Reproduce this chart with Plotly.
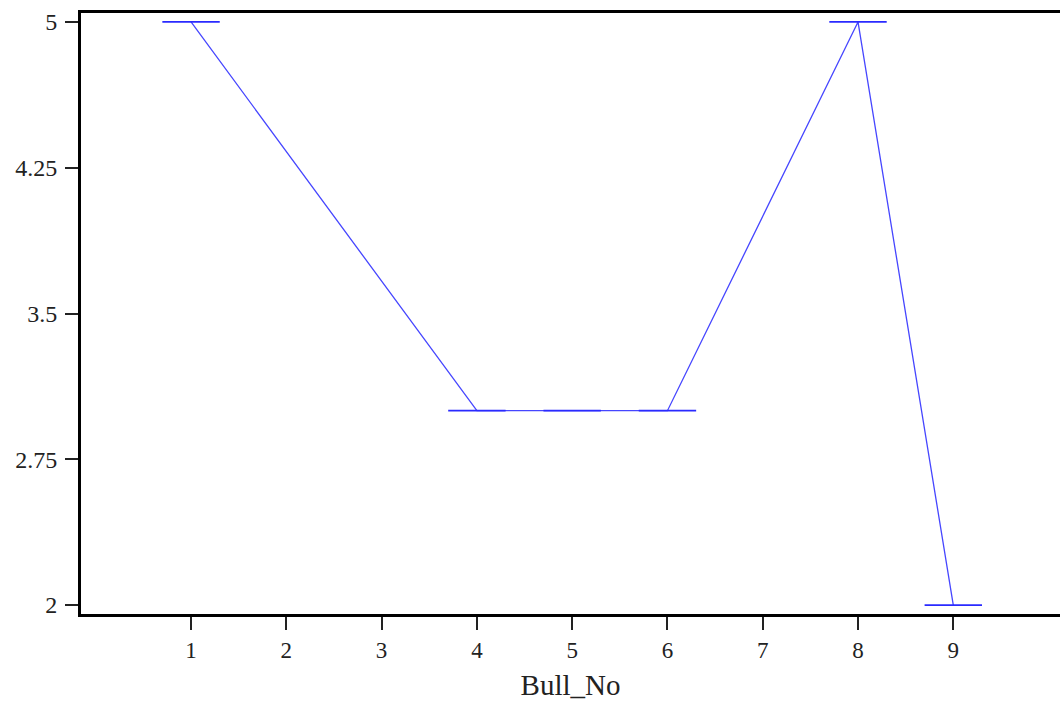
import plotly.graph_objects as go

# Bull numbers with recorded scores
bull_no = [1, 4, 5, 6, 8, 9]
score = [5, 3, 3, 3, 5, 2]

x_ticks = [1, 2, 3, 4, 5, 6, 7, 8, 9]
y_ticks = [2, 2.75, 3.5, 4.25, 5]
y_tick_text = ["2", "2.75", "3.5", "4.25", "5"]

fig = go.Figure()
fig.add_trace(go.Scatter(
    x=bull_no,
    y=score,
    mode="lines+markers",
    line=dict(color="#4646ff", width=1.3),
    marker=dict(symbol="line-ew", size=41,
                line=dict(color="#2a2aff", width=1.8)),
    showlegend=False,
    hoverinfo="x+y",
))

font_family = "Liberation Serif, Times New Roman, serif"

fig.update_layout(
    width=1060,
    height=709,
    margin=dict(l=81, r=0, t=13, b=95),
    paper_bgcolor="white",
    plot_bgcolor="white",
    font=dict(family=font_family, size=24, color="#222"),
    xaxis=dict(
        range=[-0.155, 10.12],
        tickvals=x_ticks,
        ticktext=[str(v) for v in x_ticks],
        showgrid=False,
        zeroline=False,
        showline=True,
        linecolor="black",
        linewidth=3,
        mirror=True,
        ticks="outside",
        ticklen=13,
        tickwidth=2,
        tickcolor="#222",
        tickfont=dict(size=23),
        title=dict(text="Bull_No", font=dict(size=29), standoff=14),
    ),
    yaxis=dict(
        range=[1.954, 5.046],
        tickvals=y_ticks,
        ticktext=y_tick_text,
        showgrid=False,
        zeroline=False,
        showline=True,
        linecolor="black",
        linewidth=3,
        ticks="outside",
        ticklen=13,
        tickwidth=2,
        tickcolor="#222",
        tickfont=dict(size=24),
        ticklabelstandoff=3,
    ),
)

fig.write_html("out.html")
